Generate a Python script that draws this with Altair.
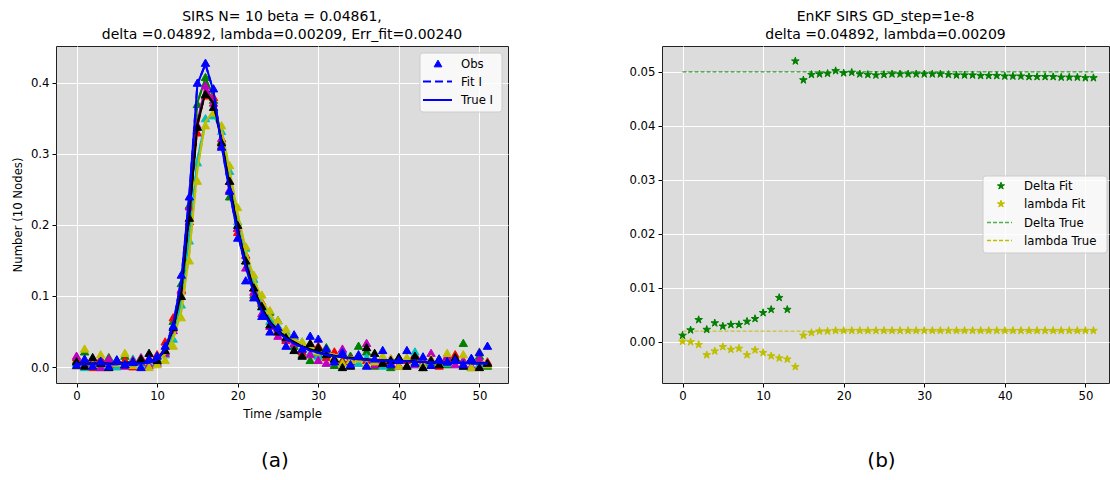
import altair as alt
import pandas as pd

FONT = "DejaVu Sans"

# ---------------------------------------------------------------- data
T = list(range(52))

# true infected fraction per run
true_b = [0.004, 0.004, 0.004, 0.004, 0.004, 0.004, 0.005, 0.005, 0.005, 0.006,
          0.010, 0.025, 0.060, 0.123, 0.243, 0.398, 0.426, 0.388, 0.312, 0.246,
          0.188, 0.140, 0.104, 0.079, 0.061, 0.049, 0.040, 0.033, 0.028, 0.023,
          0.020, 0.017, 0.015, 0.014, 0.012, 0.011, 0.010, 0.010, 0.009, 0.009,
          0.008, 0.008, 0.007, 0.007, 0.007, 0.006, 0.006, 0.006, 0.006, 0.005,
          0.005, 0.005]
true_g = [0.005, 0.005, 0.005, 0.005, 0.005, 0.005, 0.005, 0.006, 0.006, 0.007,
          0.011, 0.026, 0.058, 0.116, 0.232, 0.372, 0.406, 0.380, 0.316, 0.250,
          0.191, 0.143, 0.107, 0.081, 0.063, 0.050, 0.041, 0.034, 0.028, 0.024,
          0.021, 0.018, 0.016, 0.014, 0.013, 0.012, 0.011, 0.010, 0.009, 0.009,
          0.008, 0.008, 0.008, 0.007, 0.007, 0.007, 0.006, 0.006, 0.006, 0.006,
          0.006, 0.005]
true_r = [0.006, 0.006, 0.006, 0.006, 0.006, 0.006, 0.006, 0.007, 0.007, 0.008,
          0.012, 0.025, 0.055, 0.110, 0.220, 0.338, 0.390, 0.376, 0.320, 0.256,
          0.196, 0.148, 0.110, 0.083, 0.064, 0.051, 0.042, 0.035, 0.029, 0.025,
          0.021, 0.018, 0.016, 0.014, 0.013, 0.012, 0.011, 0.010, 0.010, 0.009,
          0.009, 0.008, 0.008, 0.007, 0.007, 0.007, 0.007, 0.006, 0.006, 0.006,
          0.006, 0.006]
true_c = [0.004, 0.004, 0.004, 0.004, 0.004, 0.004, 0.005, 0.005, 0.005, 0.006,
          0.009, 0.020, 0.045, 0.092, 0.185, 0.292, 0.346, 0.356, 0.328, 0.270,
          0.210, 0.160, 0.120, 0.091, 0.070, 0.055, 0.045, 0.037, 0.031, 0.026,
          0.022, 0.019, 0.017, 0.015, 0.013, 0.012, 0.011, 0.010, 0.010, 0.009,
          0.009, 0.008, 0.008, 0.007, 0.007, 0.007, 0.006, 0.006, 0.006, 0.006,
          0.006, 0.005]
true_m = [0.005, 0.005, 0.005, 0.005, 0.005, 0.005, 0.006, 0.006, 0.006, 0.007,
          0.011, 0.024, 0.056, 0.112, 0.224, 0.345, 0.394, 0.374, 0.317, 0.252,
          0.193, 0.145, 0.108, 0.082, 0.063, 0.050, 0.041, 0.034, 0.029, 0.024,
          0.021, 0.018, 0.016, 0.014, 0.013, 0.012, 0.011, 0.010, 0.009, 0.009,
          0.008, 0.008, 0.008, 0.007, 0.007, 0.007, 0.006, 0.006, 0.006, 0.006,
          0.005, 0.005]
true_y = [0.004, 0.004, 0.004, 0.004, 0.004, 0.004, 0.005, 0.005, 0.005, 0.006,
          0.008, 0.018, 0.040, 0.078, 0.160, 0.278, 0.345, 0.360, 0.335, 0.276,
          0.216, 0.165, 0.125, 0.095, 0.074, 0.058, 0.047, 0.039, 0.032, 0.027,
          0.023, 0.020, 0.017, 0.015, 0.014, 0.012, 0.011, 0.010, 0.010, 0.009,
          0.009, 0.008, 0.008, 0.007, 0.007, 0.007, 0.007, 0.006, 0.006, 0.006,
          0.006, 0.006]
true_k = [0.005, 0.005, 0.005, 0.005, 0.005, 0.005, 0.006, 0.006, 0.006, 0.007,
          0.011, 0.024, 0.054, 0.106, 0.214, 0.342, 0.386, 0.371, 0.318, 0.255,
          0.195, 0.147, 0.109, 0.083, 0.064, 0.051, 0.042, 0.035, 0.029, 0.025,
          0.021, 0.018, 0.016, 0.014, 0.013, 0.012, 0.011, 0.010, 0.009, 0.009,
          0.008, 0.008, 0.008, 0.007, 0.007, 0.007, 0.006, 0.006, 0.006, 0.006,
          0.006, 0.005]

# noisy observations per run
obs_b = [0.003, 0.012, 0.002, 0.009, 0.001, 0.011, 0.004, 0.007, 0.000, 0.012,
         0.016, 0.030, 0.058, 0.130, 0.240, 0.400, 0.428, 0.392, 0.310, 0.248,
         0.182, 0.122, 0.098, 0.072, 0.050, 0.056, 0.030, 0.046, 0.026, 0.044,
         0.040, 0.026, 0.008, 0.021, 0.004, 0.018, 0.002, 0.012, 0.024, 0.004,
         0.010, 0.024, 0.006, 0.015, 0.003, 0.012, 0.008, 0.010, 0.004, 0.013,
         0.021, 0.030]
obs_g = [0.010, 0.022, 0.006, 0.000, 0.014, 0.004, 0.016, 0.002, 0.010, 0.005,
         0.012, 0.022, 0.065, 0.118, 0.228, 0.370, 0.408, 0.376, 0.318, 0.240,
         0.196, 0.150, 0.102, 0.090, 0.078, 0.066, 0.048, 0.030, 0.018, 0.010,
         0.020, 0.028, 0.003, 0.010, 0.016, 0.030, 0.022, 0.002, 0.008, 0.000,
         0.014, 0.002, 0.009, 0.000, 0.006, 0.012, 0.004, 0.010, 0.034, 0.000,
         0.016, 0.002]
obs_r = [0.014, 0.008, 0.000, 0.012, 0.006, 0.003, 0.010, 0.001, 0.007, 0.013,
         0.018, 0.036, 0.070, 0.108, 0.205, 0.330, 0.382, 0.380, 0.312, 0.262,
         0.190, 0.158, 0.112, 0.092, 0.072, 0.054, 0.038, 0.044, 0.022, 0.032,
         0.030, 0.014, 0.022, 0.008, 0.012, 0.016, 0.010, 0.004, 0.006, 0.012,
         0.003, 0.010, 0.018, 0.006, 0.011, 0.002, 0.014, 0.018, 0.005, 0.010,
         0.003, 0.008]
obs_c = [0.006, 0.000, 0.010, 0.003, 0.008, 0.001, 0.005, 0.012, 0.002, 0.004,
         0.008, 0.018, 0.040, 0.088, 0.178, 0.288, 0.350, 0.354, 0.332, 0.276,
         0.205, 0.168, 0.124, 0.085, 0.065, 0.058, 0.050, 0.044, 0.036, 0.020,
         0.016, 0.022, 0.010, 0.024, 0.008, 0.006, 0.014, 0.010, 0.002, 0.005,
         0.010, 0.012, 0.022, 0.008, 0.004, 0.010, 0.006, 0.012, 0.002, 0.009,
         0.004, 0.006]
obs_m = [0.016, 0.004, 0.008, 0.000, 0.012, 0.006, 0.002, 0.010, 0.014, 0.003,
         0.006, 0.020, 0.052, 0.110, 0.226, 0.340, 0.396, 0.372, 0.322, 0.250,
         0.196, 0.140, 0.106, 0.076, 0.058, 0.044, 0.040, 0.034, 0.026, 0.018,
         0.010, 0.006, 0.012, 0.026, 0.008, 0.014, 0.034, 0.004, 0.010, 0.006,
         0.002, 0.012, 0.004, 0.010, 0.020, 0.008, 0.016, 0.004, 0.010, 0.002,
         0.012, 0.006]
obs_y = [0.002, 0.026, 0.004, 0.018, 0.000, 0.006, 0.020, 0.003, 0.012, 0.000,
         0.004, 0.010, 0.030, 0.070, 0.150, 0.262, 0.340, 0.358, 0.340, 0.284,
         0.225, 0.170, 0.130, 0.102, 0.080, 0.066, 0.054, 0.040, 0.036, 0.030,
         0.022, 0.018, 0.014, 0.006, 0.010, 0.012, 0.004, 0.008, 0.016, 0.012,
         0.002, 0.014, 0.010, 0.004, 0.012, 0.006, 0.020, 0.010, 0.018, 0.000,
         0.022, 0.004]
obs_k = [0.008, 0.002, 0.014, 0.006, 0.000, 0.010, 0.004, 0.008, 0.012, 0.020,
         0.010, 0.024, 0.056, 0.100, 0.210, 0.338, 0.384, 0.366, 0.316, 0.262,
         0.200, 0.150, 0.112, 0.086, 0.060, 0.050, 0.042, 0.024, 0.016, 0.034,
         0.028, 0.018, 0.012, 0.000, 0.002, 0.016, 0.028, 0.020, 0.006, 0.010,
         0.014, 0.002, 0.016, 0.000, 0.010, 0.004, 0.008, 0.014, 0.002, 0.012,
         0.000, 0.006]

# EnKF parameter estimates
delta_fit = [0.0012, 0.0022, 0.0041, 0.0023, 0.0035, 0.0029, 0.0032, 0.0032, 0.0038, 0.0043,
             0.0054, 0.0060, 0.0082, 0.0060, 0.0520, 0.0485, 0.0495, 0.0496, 0.0497, 0.0502,
             0.0498, 0.0499, 0.0496, 0.0495, 0.0494, 0.0495, 0.0496, 0.0496, 0.0496, 0.0496,
             0.0496, 0.0496, 0.0496, 0.0495, 0.0494, 0.0494, 0.0494, 0.0493, 0.0493, 0.0493,
             0.0492, 0.0492, 0.0492, 0.0491, 0.0491, 0.0491, 0.0491, 0.0490, 0.0490, 0.0490,
             0.0489, 0.0489]
lambda_fit = [0.0001, 0.0000, -0.0005, -0.0024, -0.0017, -0.0009, -0.0014, -0.0012, -0.0024, -0.0015,
              -0.0020, -0.0026, -0.0030, -0.0032, -0.0046, 0.0012, 0.0017, 0.0020, 0.0020, 0.0021,
              0.0021, 0.0021, 0.0021, 0.0021, 0.0021, 0.0021, 0.0021, 0.0021, 0.0021, 0.0021,
              0.0021, 0.0021, 0.0021, 0.0021, 0.0021, 0.0021, 0.0021, 0.0021, 0.0021, 0.0021,
              0.0021, 0.0021, 0.0021, 0.0021, 0.0021, 0.0021, 0.0021, 0.0021, 0.0021, 0.0021,
              0.0021, 0.0021]
DELTA_TRUE = 0.05
LAMBDA_TRUE = 0.002
TRUE_SPAN = [0, 51]

RUN_ORDER = ["g", "r", "c", "m", "y", "k", "b"]
RUN_COLORS = {"b": "#0000ff", "g": "#008000", "r": "#ff0000", "c": "#00bfbf",
              "m": "#bf00bf", "y": "#bfbf00", "k": "#000000"}
TRUE_I = {"b": true_b, "g": true_g, "r": true_r, "c": true_c,
          "m": true_m, "y": true_y, "k": true_k}
FIT_I = TRUE_I  # fitted curves lie on the true ones
OBS = {"b": obs_b, "g": obs_g, "r": obs_r, "c": obs_c,
       "m": obs_m, "y": obs_y, "k": obs_k}

LEGEND_A = ["Obs", "Fit I", "True I"]
LEGEND_B = ["Delta Fit", "lambda Fit", "Delta True", "lambda True"]

# ---------------------------------------------------------------- layout
W_A, W_B, H = 452, 447, 337
DASH_A = [8, 4]
DASH_B = [4, 2]
# five-pointed star marker (unit radius, regular inner radius)
STAR = ("M0,-1L0.2245,-0.309L0.951,-0.309L0.3633,0.118L0.588,0.809L0,0.382"
        "L-0.588,0.809L-0.3633,0.118L-0.951,-0.309L-0.2245,-0.309Z")


def series(values):
    return pd.DataFrame({"t": T[:len(values)], "v": values})


ONE = pd.DataFrame({"s": [""]})


def legend_layers(box, rows, sym_x, line_x, label_x, entries):
    """Hand-placed legend: box, then one symbol/line + label per entry."""
    x0, x1, y0, y1 = box
    out = [alt.Chart(ONE).mark_rect(fill="white", fillOpacity=0.8, stroke="#cccccc",
                                    strokeWidth=1, cornerRadius=3)
           .encode(x=alt.value(x0), x2=alt.value(x1), y=alt.value(y0), y2=alt.value(y1))]
    for y, (label, kind, col, opt) in zip(rows, entries):
        if kind == "point":
            shape, size = opt
            out.append(alt.Chart(ONE).mark_point(shape=shape, filled=True, size=size, color=col,
                                                 stroke=col, strokeWidth=1, opacity=1)
                       .encode(x=alt.value(sym_x), y=alt.value(y)))
        else:
            width, dash = opt
            mark = dict(color=col, strokeWidth=width)
            if dash:
                mark["strokeDash"] = dash
            out.append(alt.Chart(ONE).mark_rule(**mark)
                       .encode(x=alt.value(line_x[0]), x2=alt.value(line_x[1]), y=alt.value(y)))
        out.append(alt.Chart(pd.DataFrame({"s": [label]}))
                   .mark_text(font=FONT, fontSize=11.7, color="black", align="left",
                              baseline="middle")
                   .encode(text="s:N", x=alt.value(label_x), y=alt.value(y)))
    return out


x_a = alt.X("t:Q", scale=alt.Scale(domain=[-2.55, 53.55], nice=False, zero=False),
            axis=alt.Axis(values=[0, 10, 20, 30, 40, 50], title="Time /sample",
                          titlePadding=7))
y_a = alt.Y("v:Q", scale=alt.Scale(domain=[-0.0225, 0.4515], nice=False, zero=False),
            axis=alt.Axis(values=[0, 0.1, 0.2, 0.3, 0.4], format=".1f",
                          title="Number (10 Nodes)", titlePadding=7))

# ---------------------------------------------------------------- panel (a)
layers_a = []
for key in RUN_ORDER:
    col = RUN_COLORS[key]
    layers_a.append(
        alt.Chart(series(OBS[key]))
        .mark_point(shape="triangle-up", filled=True, size=70, color=col,
                    stroke=col, strokeWidth=1, opacity=1)
        .encode(x=x_a, y=y_a))
    layers_a.append(
        alt.Chart(series(FIT_I[key]))
        .mark_line(color=col, strokeWidth=2, strokeDash=DASH_A)
        .encode(x=x_a, y=y_a))
    layers_a.append(
        alt.Chart(series(TRUE_I[key]))
        .mark_line(color=col, strokeWidth=2)
        .encode(x=x_a, y=y_a))

blue = RUN_COLORS["b"]
layers_a += legend_layers(
    box=(364, 446, 7, 66), rows=(17.5, 35.5, 54), sym_x=382, line_x=(367, 396), label_x=405,
    entries=[(LEGEND_A[0], "point", blue, ("triangle-up", 60)),
             (LEGEND_A[1], "line", blue, (2, DASH_A)),
             (LEGEND_A[2], "line", blue, (2, None))])

caption_a = (alt.Chart(pd.DataFrame({"s": ["(a)"]}))
             .mark_text(font=FONT, fontSize=20, color="black")
             .encode(text="s:N", x=alt.value(W_A / 2 - 7), y=alt.value(H + 78)))

panel_a = alt.layer(*layers_a, caption_a).properties(
    width=W_A, height=H,
    title=alt.TitleParams(["SIRS N= 10 beta = 0.04861,",
                           "delta =0.04892, lambda=0.00209, Err_fit=0.00240"]))

# ---------------------------------------------------------------- panel (b)
x_b = alt.X("t:Q", scale=alt.Scale(domain=[-2.55, 52.93], nice=False, zero=False),
            axis=alt.Axis(values=[0, 10, 20, 30, 40, 50], title=None))
y_b = alt.Y("v:Q", scale=alt.Scale(domain=[-0.0076, 0.0548], nice=False, zero=False),
            axis=alt.Axis(values=[0, 0.01, 0.02, 0.03, 0.04, 0.05], format=".2f", title=None))

G, Y = RUN_COLORS["g"], RUN_COLORS["y"]
layers_b = []
for val, col in ((DELTA_TRUE, G), (LAMBDA_TRUE, Y)):
    layers_b.append(
        alt.Chart(pd.DataFrame({"t": TRUE_SPAN, "v": [val, val]}))
        .mark_line(color=col, strokeWidth=1, strokeDash=DASH_B)
        .encode(x=x_b, y=y_b))
for vals, col in ((delta_fit, G), (lambda_fit, Y)):
    layers_b.append(
        alt.Chart(series(vals))
        .mark_point(shape=STAR, filled=True, size=64, color=col, stroke=col,
                    strokeWidth=1, opacity=1)
        .encode(x=x_b, y=y_b))

layers_b += legend_layers(
    box=(321, 445, 130, 207), rows=(140, 158, 176.5, 194.5), sym_x=339, line_x=(325, 350),
    label_x=362,
    entries=[(LEGEND_B[0], "point", G, (STAR, 56)),
             (LEGEND_B[1], "point", Y, (STAR, 56)),
             (LEGEND_B[2], "line", "#4caf4c", (1.5, DASH_B)),
             (LEGEND_B[3], "line", Y, (1.5, DASH_B))])

caption_b = (alt.Chart(pd.DataFrame({"s": ["(b)"]}))
             .mark_text(font=FONT, fontSize=20, color="black")
             .encode(text="s:N", x=alt.value(W_B / 2 - 4), y=alt.value(H + 78)))

panel_b = alt.layer(*layers_b, caption_b).properties(
    width=W_B, height=H,
    title=alt.TitleParams(["EnKF SIRS GD_step=1e-8", "delta =0.04892, lambda=0.00209"]))

# ---------------------------------------------------------------- assemble
chart = (
    alt.hconcat(panel_a, panel_b, spacing=119)
    .properties(padding={"left": 11, "top": 9, "right": 0, "bottom": 0})
    .configure_view(fill="#dcdcdc", stroke="#222222", strokeWidth=1)
    .configure_axis(
        labelFont=FONT, labelFontSize=11.7, labelColor="black", labelPadding=3,
        tickColor="black", tickSize=4, tickWidth=1, domain=False,
        grid=True, gridColor="white", gridWidth=1,
        titleFont=FONT, titleFontSize=11.7, titleFontWeight="normal", titleColor="black")
    .configure_title(font=FONT, fontSize=14, fontWeight="normal", color="black",
                     anchor="middle", frame="group", lineHeight=18, offset=4)
)

chart.save("out.html", embed_options={"renderer": "svg", "actions": False})
